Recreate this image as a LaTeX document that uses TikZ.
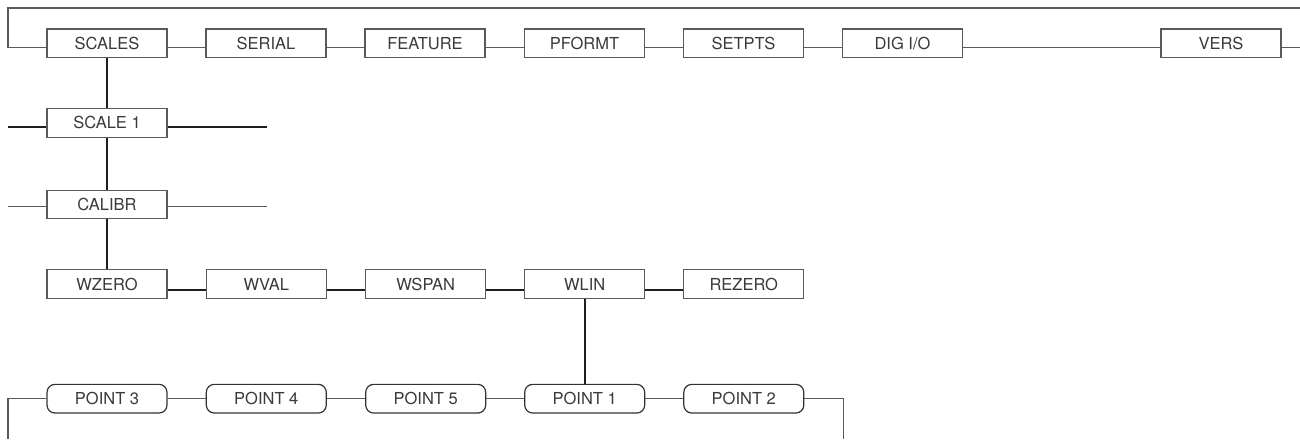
\documentclass[tikz,border=0pt]{standalone}
\usepackage{fontspec}
\setmainfont{TeX Gyre Heros}
\definecolor{txt}{HTML}{3A3A3A}
\definecolor{thin}{HTML}{5A5A5A}
\definecolor{thick}{HTML}{1E1E1E}
\begin{document}
\begin{tikzpicture}[x=1pt,y=-1pt,
  menubox/.style={draw=thin,line width=1.1pt,rectangle,minimum width=120pt,minimum height=28.7pt,inner sep=0pt,
    font=\fontsize{16.5}{19}\selectfont,text=txt,fill=white},
  pointbox/.style={menubox,rounded corners=8pt,line width=1.2pt,draw=black!80},
  thinline/.style={draw=thin,line width=1.1pt},
  thickline/.style={draw=thick,line width=2pt}]
\useasboundingbox (0,0) rectangle (1300,439);
% top row
\node[menubox] (scales) at (107,43.3) {SCALES};
\node[menubox] (serial) at (266,43.3) {SERIAL};
\node[menubox] (feature) at (425,43.3) {FEATURE};
\node[menubox] (pformt) at (584.5,43.3) {PFORMT};
\node[menubox] (setpts) at (743.5,43.3) {SETPTS};
\node[menubox] (digio) at (902.5,43.3) {DIG I/O};
\node[menubox] (vers) at (1221,43.3) {VERS};
% column
\node[menubox] (scale1) at (107,122.8) {SCALE 1};
\node[menubox] (calibr) at (107,204.5) {CALIBR};
% calibration row
\node[menubox] (wzero) at (107,284.2) {WZERO};
\node[menubox] (wval) at (266.3,284.2) {WVAL};
\node[menubox] (wspan) at (425.7,284.2) {WSPAN};
\node[menubox] (wlin) at (584.7,284.2) {WLIN};
\node[menubox] (rezero) at (743.8,284.2) {REZERO};
% points row
\node[pointbox] (p3) at (107,398.7) {POINT 3};
\node[pointbox] (p4) at (266.3,398.7) {POINT 4};
\node[pointbox] (p5) at (425.7,398.7) {POINT 5};
\node[pointbox] (p1) at (584.7,398.7) {POINT 1};
\node[pointbox] (p2) at (743.8,398.7) {POINT 2};
% free ends
\coordinate (tl) at (8,8);
\coordinate (tr) at (1300,8);
\coordinate (vr) at (1300,47.5);
\coordinate (s1l) at (8,126.7);
\coordinate (s1r) at (266.7,126.7);
\coordinate (cal) at (8,206.7);
\coordinate (car) at (266.7,206.7);
\coordinate (bl) at (8,439);
\coordinate (br) at (843.3,439);
% thin connectors
\begin{scope}[every path/.style={thinline}]
\draw ([yshift=-4.2pt]scales.west) -| (tl) -- (tr);
\draw ([yshift=-4.2pt]scales.east) -- ([yshift=-4.2pt]serial.west);
\draw ([yshift=-4.2pt]serial.east) -- ([yshift=-4.2pt]feature.west);
\draw ([yshift=-4.2pt]feature.east) -- ([yshift=-4.2pt]pformt.west);
\draw ([yshift=-4.2pt]pformt.east) -- ([yshift=-4.2pt]setpts.west);
\draw ([yshift=-4.2pt]setpts.east) -- ([yshift=-4.2pt]digio.west);
\draw ([yshift=-4.2pt]digio.east) -- ([yshift=-4.2pt]vers.west);
\draw ([yshift=-4.2pt]vers.east) -- (vr);
\draw (cal) -- ([yshift=-2.2pt]calibr.west);
\draw ([yshift=-2.2pt]calibr.east) -- (car);
\draw (p3.west) -| (bl);
\draw (p3.east) -- (p4.west);
\draw (p4.east) -- (p5.west);
\draw (p5.east) -- (p1.west);
\draw (p1.east) -- (p2.west);
\draw (p2.east) -| (br);
\end{scope}
% thick connectors
\begin{scope}[every path/.style={thickline}]
\draw (scales.south) -- (scale1.north);
\draw (scale1.south) -- (calibr.north);
\draw (calibr.south) -- (wzero.north);
\draw (s1l) -- ([yshift=-3.9pt]scale1.west);
\draw ([yshift=-3.9pt]scale1.east) -- (s1r);
\draw ([yshift=-5.8pt]wzero.east) -- ([yshift=-5.8pt]wval.west);
\draw ([yshift=-5.8pt]wval.east) -- ([yshift=-5.8pt]wspan.west);
\draw ([yshift=-5.8pt]wspan.east) -- ([yshift=-5.8pt]wlin.west);
\draw ([yshift=-5.8pt]wlin.east) -- ([yshift=-5.8pt]rezero.west);
\draw (wlin.south) -- (p1.north);
\end{scope}
\end{tikzpicture}
\end{document}
